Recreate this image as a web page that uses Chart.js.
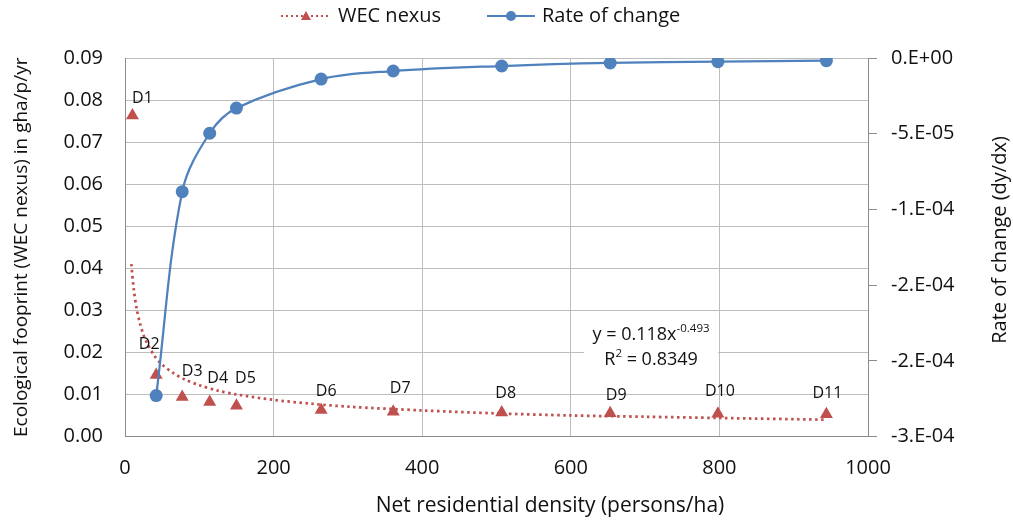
<!DOCTYPE html>
<html>
<head>
<meta charset="utf-8">
<script src="https://cdn.jsdelivr.net/npm/chart.js@4.4.1/dist/chart.umd.min.js"></script>
<style>
  html, body { margin: 0; padding: 0; background: #fff; }
  #wrap { width: 1013px; height: 520px; position: relative; }
</style>
</head>
<body>
<div id="wrap"><canvas id="chart"></canvas></div>
<script>
// districts D1..D11
const pointLabels = ['D1', 'D2', 'D3', 'D4', 'D5', 'D6', 'D7', 'D8', 'D9', 'D10', 'D11'];
const density = [10, 42, 77, 114, 150, 264, 361, 507, 653, 798, 944];
const wecNexus = [0.0763, 0.0146, 0.0094, 0.0082, 0.0073, 0.0063, 0.0059, 0.0057, 0.0055, 0.0054, 0.0053];
const rateOfChange = [null, -2.23e-4, -8.83e-5, -4.97e-5, -3.31e-5, -1.39e-5, -8.6e-6, -5.3e-6, -3.3e-6, -2.45e-6, -1.8e-6];

// power trendline
const trendX = [8.5, 12, 16, 20, 25, 30, 40, 50, 65, 80, 100, 125, 150, 200, 250, 300, 400, 500, 600, 700, 800, 944];
const trendY = [0.0410, 0.0347, 0.0301, 0.0270, 0.0241, 0.0221, 0.0191, 0.0171, 0.0151, 0.0136, 0.0122, 0.0109, 0.0100, 0.0087, 0.0078, 0.0071, 0.0062, 0.0055, 0.0050, 0.0047, 0.0044, 0.0040];

const leftTicks = { min: 0, max: 0.09, step: 0.01 };
const rightTicks = { min: -2.5e-4, max: 0, step: 5e-5 };
const rightTickLabels = ['0.E+00', '-5.E-05', '-1.E-04', '-2.E-04', '-2.E-04', '-3.E-04'];

const RED = '#C0504D';
const BLUE = '#4F81BD';
const GRID = '#BDBDBD';
const FRAME = '#8C8C8C';
const TXT = '#111111';
const FONT = "'Open Sans', 'DejaVu Sans', sans-serif";

Chart.defaults.font.family = FONT;
Chart.defaults.color = TXT;

const annotate = {
  id: 'annotate',
  afterDatasetsDraw(chart, args, opts) {
    const ctx = chart.ctx;
    const x = chart.scales.x, y = chart.scales.y;
    ctx.save();
    ctx.fillStyle = TXT;
    ctx.font = '16px ' + FONT;
    ctx.textAlign = 'center';
    ctx.textBaseline = 'middle';
    pointLabels.forEach(function(t, i) {
      const o = opts.offsets[i];
      ctx.fillText(t, x.getPixelForValue(density[i]) + o[0], y.getPixelForValue(wecNexus[i]) + o[1]);
    });

    // trendline equation box
    const cx = x.getPixelForValue(opts.eqAt[0]);
    const cy = y.getPixelForValue(opts.eqAt[1]);
    ctx.fillStyle = '#fff';
    ctx.fillRect(cx - 67, cy - 25, 134, 50);
    ctx.fillStyle = TXT;
    ctx.textAlign = 'left';
    const big = '18px ' + FONT, small = '11.5px ' + FONT;
    ctx.font = big; const w1 = ctx.measureText('y = 0.118x').width;
    ctx.font = small; const s1 = ctx.measureText('-0.493').width;
    let sx = cx - (w1 + s1) / 2;
    ctx.font = big; ctx.fillText('y = 0.118x', sx, cy - 12);
    ctx.font = small; ctx.fillText('-0.493', sx + w1, cy - 18);
    ctx.font = big; const r1 = ctx.measureText('R').width, r3 = ctx.measureText(' = 0.8349').width;
    ctx.font = small; const r2 = ctx.measureText('2').width;
    sx = cx - (r1 + r2 + r3) / 2;
    ctx.font = big; ctx.fillText('R', sx, cy + 13);
    ctx.font = small; ctx.fillText('2', sx + r1, cy + 7);
    ctx.font = big; ctx.fillText(' = 0.8349', sx + r1 + r2, cy + 13);
    ctx.restore();
  },
  afterDraw(chart) {
    const ctx = chart.ctx;
    ctx.save();
    ctx.fillStyle = TXT;
    ctx.textAlign = 'center';
    ctx.textBaseline = 'middle';
    // x axis title (Excel put it right of the plot centre)
    ctx.font = '21px ' + FONT;
    ctx.fillText('Net residential density (persons/ha)', 550, 506);
    // right axis title, reading bottom to top
    ctx.font = '20px ' + FONT;
    ctx.translate(1000, 240);
    ctx.rotate(-Math.PI / 2);
    ctx.fillText('Rate of change (dy/dx)', 0, 0);
    ctx.restore();

    // legend
    const ly = 16;
    ctx.save();
    ctx.strokeStyle = RED; ctx.lineWidth = 2; ctx.setLineDash([2, 3]);
    ctx.beginPath(); ctx.moveTo(281, ly); ctx.lineTo(331, ly); ctx.stroke();
    ctx.setLineDash([]);
    ctx.fillStyle = RED;
    ctx.beginPath(); ctx.moveTo(306, ly - 5); ctx.lineTo(311, ly + 4); ctx.lineTo(301, ly + 4); ctx.closePath(); ctx.fill();
    ctx.strokeStyle = BLUE; ctx.lineWidth = 2;
    ctx.beginPath(); ctx.moveTo(487, ly); ctx.lineTo(535, ly); ctx.stroke();
    ctx.fillStyle = BLUE;
    ctx.beginPath(); ctx.arc(511, ly, 5, 0, Math.PI * 2); ctx.fill();
    ctx.fillStyle = TXT;
    ctx.font = '20px ' + FONT;
    ctx.textBaseline = 'middle';
    ctx.fillText('WEC nexus', 338, ly);
    ctx.fillText('Rate of change', 542, ly);
    ctx.restore();
  }
};

const wecPoints = density.map(function(d, i) { return { x: d, y: wecNexus[i] }; });
const ratePoints = density.map(function(d, i) { return { x: d, y: rateOfChange[i] }; }).filter(function(p) { return p.y !== null; });
const trendPoints = trendX.map(function(d, i) { return { x: d, y: trendY[i] }; });

new Chart(document.getElementById('chart'), {
  type: 'line',
  data: {
    datasets: [
      { label: 'Rate of change', data: ratePoints, yAxisID: 'y2', order: 0,
        borderColor: BLUE, borderWidth: 2.25, tension: 0.35, fill: false,
        pointRadius: 6.5, pointBackgroundColor: BLUE, pointBorderColor: BLUE, pointBorderWidth: 0 },
      { label: 'WEC nexus', data: wecPoints, yAxisID: 'y', order: 1, showLine: false,
        pointStyle: 'triangle', pointRadius: 7.5, pointBackgroundColor: RED, pointBorderColor: RED, pointBorderWidth: 0 },
      { label: 'Power (WEC nexus)', data: trendPoints, yAxisID: 'y', order: 2,
        borderColor: RED, borderWidth: 2.75, borderDash: [2.5, 3.5], tension: 0.3, pointRadius: 0, fill: false }
    ]
  },
  options: {
    responsive: true, maintainAspectRatio: false, animation: false,
    layout: { padding: { top: 58, left: 0, right: 0, bottom: 0 } },
    plugins: { legend: { display: false }, tooltip: { enabled: false },
      annotate: {
        offsets: [[10, -17], [-7, -31], [10, -26], [8, -24], [9, -27], [5, -19], [7, -23], [4, -19], [6, -18], [2, -22], [1, -21]],
        eqAt: [708, 0.0213]
      }
    },
    scales: {
      x: {
        type: 'linear', min: 0, max: 1000,
        afterFit: function(s) { s.height = 83.5; },
        ticks: { stepSize: 200, padding: 20, font: { size: 20 }, color: TXT,
          callback: function(v) { return String(v); } },
        grid: { color: GRID, drawTicks: false },
        border: { color: FRAME },
        title: { display: false }
      },
      y: {
        position: 'left', min: leftTicks.min, max: leftTicks.max,
        afterFit: function(s) { s.width = 125; },
        ticks: { stepSize: leftTicks.step, padding: 22, font: { size: 20 }, color: TXT,
          callback: function(v) { return v.toFixed(2); } },
        grid: { color: GRID, drawTicks: false },
        border: { color: FRAME },
        title: { display: true, text: 'Ecological fooprint (WEC nexus) in gha/p/yr', font: { size: 19 }, color: TXT, padding: { top: 10, bottom: 0 } }
      },
      y2: {
        position: 'right', min: rightTicks.min, max: rightTicks.max,
        afterFit: function(s) { s.width = 145; },
        ticks: { stepSize: rightTicks.step, padding: 14, font: { size: 20 }, color: TXT,
          callback: function(v) { return rightTickLabels[Math.round(-v / rightTicks.step)]; } },
        grid: { drawOnChartArea: false, drawTicks: true, tickLength: 9, tickColor: FRAME },
        border: { color: FRAME },
        title: { display: false }
      }
    }
  },
  plugins: [annotate]
});
</script>
</body>
</html>
